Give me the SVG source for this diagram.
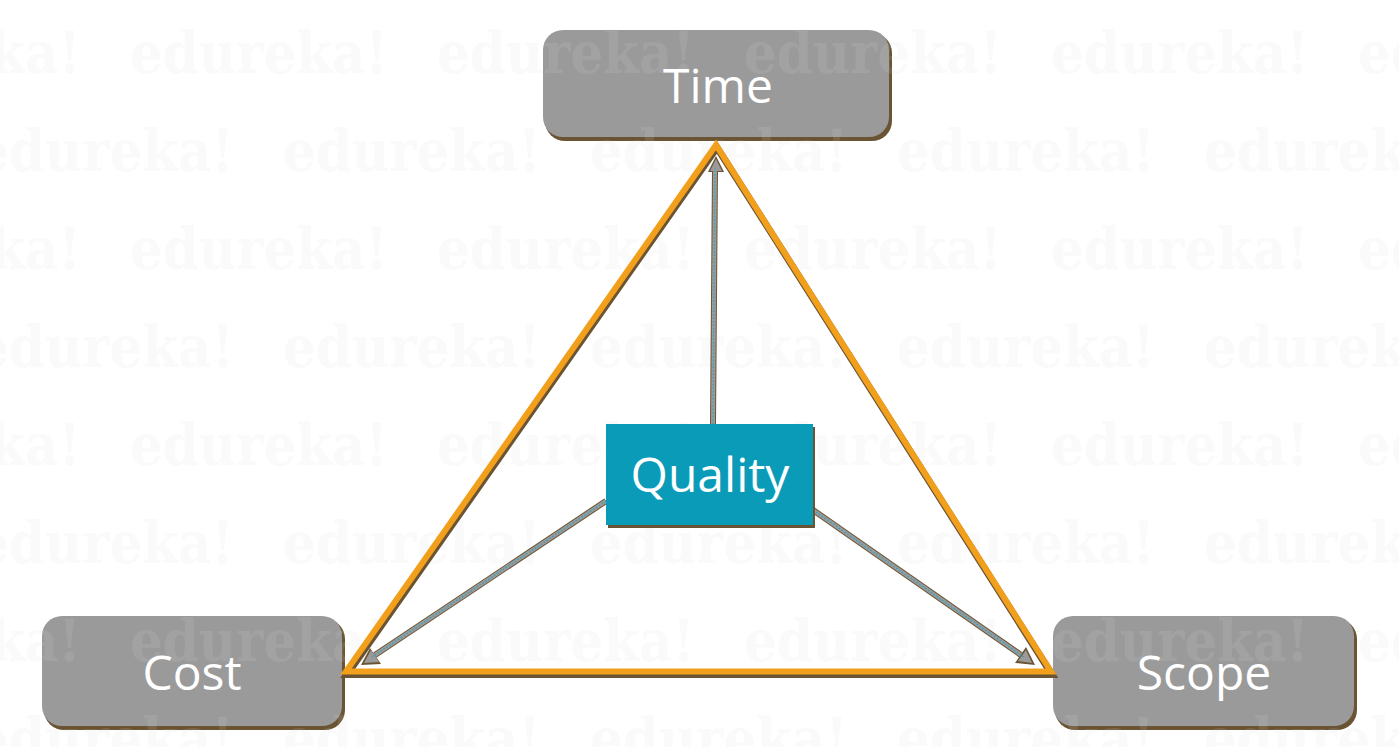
<svg xmlns="http://www.w3.org/2000/svg" width="1399" height="747" viewBox="0 0 1399 747">
  <defs>
    <style>
      .shadow { fill: #6b5433; }
      .box { fill: #9a9a9a; }
      .label { font-family: "Open Sans", "Noto Sans", sans-serif; font-size: 48px; fill: #ffffff; text-anchor: middle; }
      .wm { font-family: "DejaVu Serif", "Liberation Serif", serif; font-weight: bold; font-size: 58px; fill: #d5d5d5; }
      .tri { fill: none; stroke: #f29f1c; stroke-width: 6; stroke-linejoin: miter; }
      .tri-sh { fill: none; stroke: #6b5433; stroke-width: 7; stroke-linejoin: miter; }
      .a-out { stroke: #6b5433; stroke-width: 6; fill: none; }
      .a-in { stroke: #9a9a9a; stroke-width: 4; fill: none; }
      .a-dot { stroke: #1aa6c8; stroke-width: 1.2; stroke-dasharray: 1.5 2; fill: none; }
      .head-out { fill: #6b5433; }
      .head-in { fill: #9a9a9a; }
    </style>
    <pattern id="wmp" x="0" y="0" width="307" height="196" patternUnits="userSpaceOnUse">
      <text class="wm" x="130" y="73" textLength="258" lengthAdjust="spacingAndGlyphs">edureka!</text>
      <text class="wm" x="-177" y="73" textLength="258" lengthAdjust="spacingAndGlyphs">edureka!</text>
      <text class="wm" x="-24" y="171" textLength="258" lengthAdjust="spacingAndGlyphs">edureka!</text>
      <text class="wm" x="283" y="171" textLength="258" lengthAdjust="spacingAndGlyphs">edureka!</text>
    </pattern>
  </defs>

  <rect x="0" y="0" width="1399" height="747" fill="#ffffff"/>

  <g id="node-time">
    <rect class="shadow" x="545" y="33" width="347" height="108" rx="20"/>
    <rect class="box" x="543" y="30" width="346" height="107" rx="20"/>
  </g>
  <g id="node-cost">
    <rect class="shadow" x="44" y="619" width="301" height="111" rx="20"/>
    <rect class="box" x="42" y="616" width="300" height="110" rx="20"/>
  </g>
  <g id="node-scope">
    <rect class="shadow" x="1055" y="619" width="302" height="111" rx="20"/>
    <rect class="box" x="1053" y="616" width="301" height="110" rx="20"/>
  </g>

  <g id="watermark">
    <rect x="0" y="0" width="1399" height="747" fill="url(#wmp)" opacity="0.13"/>
  </g>

  <g id="labels-gray">
    <text class="label" x="718" y="103">Time</text>
    <text class="label" x="192" y="690">Cost</text>
    <text class="label" x="1204" y="690">Scope</text>
  </g>

  <g id="connectors">
    <g id="triangle">
      <polygon class="tri-sh" points="716,146 346,673 1051,673" transform="translate(1,1.5)"/>
      <polygon class="tri" points="716,145 346,671.5 1051,671.5"/>
    </g>
    <g id="arrow-time">
      <line class="a-out" x1="713" y1="424" x2="715" y2="170"/>
      <polygon class="head-out" points="716,156 724,172 708,172"/>
      <line class="a-in" x1="713" y1="424" x2="715" y2="170"/>
      <polygon class="head-in" points="716,159 722,171 710,171"/>
      <line class="a-dot" x1="713" y1="424" x2="715" y2="168"/>
    </g>
    <g id="arrow-cost">
      <line class="a-out" x1="606" y1="501" x2="375" y2="655"/>
      <polygon class="head-out" points="361,665 370,648 381,664"/>
      <line class="a-in" x1="606" y1="501" x2="375" y2="655"/>
      <polygon class="head-in" points="364,663 371,650 379,662"/>
      <line class="a-dot" x1="606" y1="501" x2="372" y2="657"/>
    </g>
    <g id="arrow-scope">
      <line class="a-out" x1="813" y1="510" x2="1021" y2="655"/>
      <polygon class="head-out" points="1035,665 1015,663 1026,647"/>
      <line class="a-in" x1="813" y1="510" x2="1021" y2="655"/>
      <polygon class="head-in" points="1032,663 1018,661 1026,650"/>
      <line class="a-dot" x1="813" y1="510" x2="1024" y2="657"/>
    </g>
  </g>

  <g id="node-quality">
    <rect class="shadow" x="608" y="427" width="207" height="101"/>
    <rect x="606" y="424" width="207" height="101" fill="#0a9bb8"/>
    <text class="label" x="710" y="492">Quality</text>
  </g>
</svg>
